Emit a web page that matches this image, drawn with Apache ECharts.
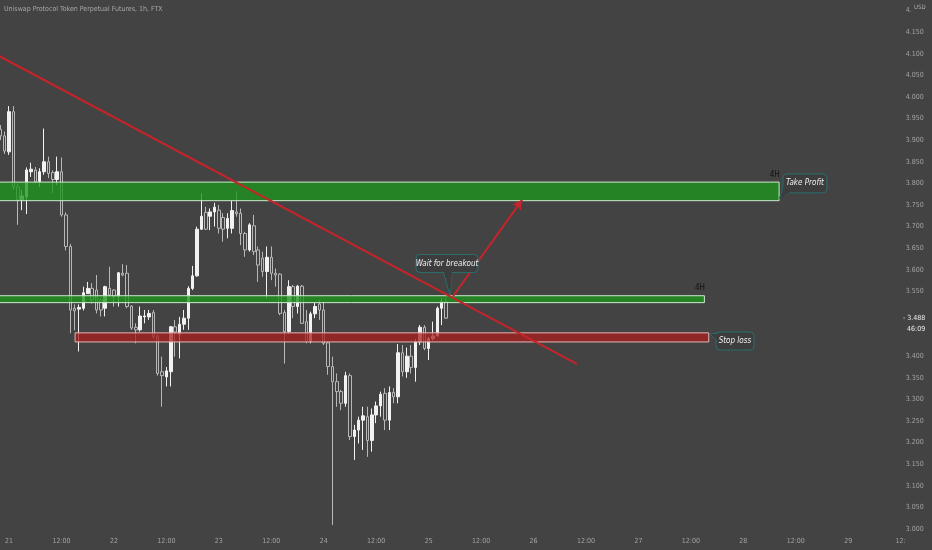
<!DOCTYPE html>
<html><head><meta charset="utf-8">
<script src="https://cdn.jsdelivr.net/npm/echarts@6/dist/echarts.min.js"></script>
<style>html,body{margin:0;padding:0;background:#434343;}#c{width:932px;height:550px;}</style>
</head><body><div id="c"></div>
<script>
// ---------- DATA ----------
const titleText = 'Uniswap Protocol Token Perpetual Futures, 1h, FTX';
const hourStart = -2;          // first hourly slot (hours after day 21 00:00)
const hourEnd = 204;           // last hourly slot on the time axis
const dayLabels = ['21','22','23','24','25','26','27','28','29'];
const halfDayLabel = '12:00';
const priceTicks = { min: 2.95, max: 4.25, step: 0.05 };
const hiddenPriceTicks = [3.5, 3.45];   // covered by the live price tag
const currency = 'USD';
const countdown = '46:09';
// [open, close, low, high], one per hour from hour -2
const candles = [
 [3.925,3.910,3.900,3.935],[3.910,3.875,3.868,3.920],[3.873,3.966,3.866,3.979],[3.966,3.792,3.785,3.979],
 [3.792,3.762,3.704,3.800],[3.762,3.771,3.738,3.785],[3.769,3.831,3.729,3.837],[3.827,3.833,3.815,3.848],
 [3.831,3.804,3.800,3.838],[3.804,3.827,3.792,3.835],[3.827,3.850,3.820,3.927],[3.850,3.823,3.812,3.862],
 [3.825,3.809,3.777,3.830],[3.809,3.827,3.796,3.862],[3.827,3.727,3.723,3.860],[3.727,3.654,3.645,3.733],
 [3.654,3.507,3.453,3.660],[3.511,3.505,3.460,3.520],[3.509,3.513,3.411,3.520],[3.511,3.547,3.506,3.561],
 [3.545,3.557,3.545,3.572],[3.557,3.530,3.522,3.569],[3.553,3.507,3.499,3.588],[3.530,3.507,3.492,3.534],
 [3.511,3.561,3.492,3.563],[3.557,3.542,3.538,3.607],[3.553,3.538,3.515,3.555],[3.538,3.593,3.515,3.595],
 [3.592,3.588,3.585,3.613],[3.592,3.515,3.511,3.611],[3.516,3.465,3.461,3.518],[3.467,3.461,3.430,3.476],
 [3.461,3.493,3.457,3.515],[3.491,3.493,3.476,3.507],[3.491,3.499,3.484,3.507],[3.501,3.445,3.441,3.507],
 [3.445,3.360,3.355,3.450],[3.364,3.355,3.283,3.399],[3.352,3.366,3.330,3.375],[3.364,3.468,3.330,3.470],
 [3.468,3.456,3.399,3.484],[3.451,3.474,3.395,3.491],[3.474,3.488,3.461,3.507],[3.488,3.557,3.461,3.562],
 [3.557,3.586,3.553,3.609],[3.586,3.694,3.584,3.700],[3.694,3.724,3.692,3.777],[3.733,3.694,3.692,3.746],
 [3.724,3.734,3.692,3.742],[3.734,3.745,3.700,3.755],[3.738,3.696,3.684,3.750],[3.721,3.694,3.665,3.731],
 [3.696,3.719,3.673,3.731],[3.696,3.737,3.684,3.760],[3.734,3.730,3.723,3.781],[3.731,3.684,3.657,3.742],
 [3.684,3.646,3.630,3.688],[3.646,3.704,3.642,3.708],[3.702,3.642,3.634,3.727],[3.646,3.611,3.572,3.654],
 [3.627,3.596,3.584,3.642],[3.596,3.629,3.534,3.654],[3.629,3.592,3.576,3.654],[3.592,3.588,3.561,3.603],
 [3.590,3.499,3.495,3.592],[3.501,3.457,3.383,3.507],[3.457,3.561,3.453,3.576],[3.561,3.515,3.488,3.565],
 [3.515,3.562,3.499,3.565],[3.562,3.476,3.476,3.565],[3.480,3.434,3.430,3.507],[3.434,3.498,3.430,3.503],
 [3.498,3.515,3.488,3.524],[3.521,3.507,3.484,3.530],[3.507,3.430,3.426,3.526],[3.431,3.376,3.357,3.434],
 [3.376,3.341,3.009,3.399],[3.341,3.318,3.283,3.360],[3.318,3.291,3.275,3.322],[3.291,3.355,3.283,3.364],
 [3.355,3.214,3.206,3.360],[3.214,3.229,3.160,3.241],[3.229,3.252,3.198,3.260],[3.252,3.262,3.183,3.283],
 [3.260,3.205,3.167,3.283],[3.205,3.264,3.179,3.279],[3.264,3.285,3.245,3.295],[3.285,3.312,3.260,3.318],
 [3.314,3.252,3.229,3.326],[3.252,3.316,3.229,3.330],[3.316,3.306,3.291,3.326],[3.306,3.408,3.291,3.428],
 [3.408,3.364,3.353,3.426],[3.364,3.400,3.350,3.420],[3.400,3.374,3.360,3.426],[3.374,3.433,3.341,3.440],
 [3.433,3.467,3.426,3.472],[3.467,3.418,3.414,3.472],[3.418,3.441,3.391,3.445],[3.441,3.447,3.436,3.480],
 [3.447,3.511,3.445,3.515],[3.511,3.526,3.472,3.534],[3.526,3.488,3.486,3.535]
];
// zones: [fromHour, toHour, lowPrice, highPrice]
const takeProfitZone = [-2.5, 176.2, 3.760, 3.803];
const resistanceZone = [-2.5, 159.1, 3.524, 3.540];
const stopLossZone   = [15.1, 160.1, 3.433, 3.454];
const zoneTag = '4H';
// lines: [[hour, price], [hour, price]]
const trendLine     = [[-2.5, 4.096], [129.9, 3.382]];
const breakoutArrow = [[101.6, 3.539], [117.4, 3.762]];
// callouts: text, box centre [hour, price], tail tip [hour, price]
const calloutTexts  = ['Wait for breakout', 'Take Profit', 'Stop loss'];
const calloutCentre = [[100.2, 3.6146], [182.1, 3.800], [166.1, 3.4352]];
const calloutTip    = [[100.9, 3.5417], [176.2, 3.7639], [160.3, 3.4514]];

// ---------- CHART ----------
const BG = '#434343';
const FONT = "'Liberation Sans Narrow','DejaVu Sans Condensed',sans-serif";
const AXIS_COL = '#a3a3a3';
const hours = [];
for (let h = hourStart; h <= hourEnd; h++) hours.push(String(h));
const lastClose = candles[candles.length - 1][1];

function zoneArea(z, fill, border, tag) {
  return [{
    coord: [z[0], z[3]],
    itemStyle: { color: fill, borderColor: border, borderWidth: 1 },
    label: tag ? { show: true, formatter: tag, position: ['100%', 0], align: 'right', verticalAlign: 'bottom',
                   offset: [0, -3], color: '#111', fontSize: 8, fontFamily: FONT } : { show: false }
  }, { coord: [z[1], z[2]] }];
}

const chart = echarts.init(document.getElementById('c'), null, { renderer: 'canvas' });
chart.setOption({
  animation: false,
  backgroundColor: BG,
  title: { text: titleText, left: 4, top: 6, padding: 0, textStyle: { color: '#a8a8a8', fontSize: 7, fontWeight: 'normal', fontFamily: FONT } },
  grid: { left: -1.83, right: 29.2, top: -11, bottom: -0.6, containLabel: false, outerBoundsMode: 'none' },
  xAxis: [{
    type: 'category', data: hours, boundaryGap: true, offset: -16,
    axisLine: { show: false }, axisTick: { show: false }, splitLine: { show: false },
    axisLabel: {
      color: AXIS_COL, fontSize: 7, fontFamily: FONT, margin: 3,
      interval: (i) => (i + hourStart) % 12 === 0,
      formatter: (v, i) => {
        const h = i + hourStart;
        if (h % 24 === 0) return dayLabels[h / 24];
        return h === hourEnd ? halfDayLabel.slice(0, 3) : halfDayLabel;
      }
    }
  }, {
    type: 'value', min: hourStart - 0.5, max: hourEnd + 0.5, show: false
  }],
  yAxis: {
    type: 'value', position: 'right', min: priceTicks.min, max: priceTicks.max, interval: priceTicks.step,
    axisLine: { show: false }, axisTick: { show: false }, splitLine: { show: false },
    axisLabel: {
      color: AXIS_COL, fontSize: 7, fontFamily: FONT, margin: 3,
      formatter: (v) => {
        if (v <= priceTicks.min + 1e-6 || v >= priceTicks.max - 1e-6) return '';
        if (hiddenPriceTicks.some(t => Math.abs(t - v) < 1e-6)) return '';
        return v.toFixed(3);
      }
    }
  },
  series: [{
    type: 'candlestick', xAxisIndex: 0, yAxisIndex: 0, data: candles, barWidth: 3, z: 2,
    itemStyle: { color: '#f2f2f2', color0: BG, borderColor: '#f2f2f2', borderColor0: '#b8b8b8', borderWidth: 1 }
  }, {
    type: 'line', xAxisIndex: 1, yAxisIndex: 0, data: [], silent: true,
    markArea: {
      z: 3, silent: true,
      data: [
        zoneArea(takeProfitZone, 'rgba(30,150,30,0.78)', '#cde8cd', zoneTag),
        zoneArea(resistanceZone, 'rgba(30,150,30,0.78)', '#cde8cd', zoneTag),
        zoneArea(stopLossZone, 'rgba(170,30,30,0.75)', '#e6b4b4', null)
      ]
    },
    markLine: {
      silent: true, symbol: ['none', 'none'], label: { show: false },
      lineStyle: { color: '#c4242a', width: 2, type: 'solid' },
      data: [[{ coord: trendLine[0] }, { coord: trendLine[1] }]]
    }
  }, {
    type: 'line', xAxisIndex: 1, yAxisIndex: 0, data: [], silent: true,
    markLine: {
      silent: true, symbol: ['none', 'arrow'], symbolSize: [8, 10], label: { show: false },
      lineStyle: { color: '#c4242a', width: 2, type: 'solid' },
      data: [[{ coord: breakoutArrow[0] }, { coord: breakoutArrow[1] }]]
    }
  }]
});

// ---------- callouts and price tag, placed through the chart's scales ----------
const toPx = (p) => chart.convertToPixel({ xAxisIndex: 1, yAxisIndex: 0 }, p);
const boxSize = [[62, 18], [44, 19], [38, 18]];
const graphics = [];
calloutTexts.forEach((t, i) => {
  const [cx, cy] = toPx(calloutCentre[i]);
  const [tx, ty] = toPx(calloutTip[i]);
  const [w, h] = boxSize[i];
  const l = cx - w / 2, tp = cy - h / 2, b = cy + h / 2;
  let base;
  if (i === 0) base = [[tx - 7, b - 1], [tx + 2, b - 1]];
  else if (i === 1) base = [[l + 1, b - 7], [l + 7, b - 1]];
  else base = [[l + 4, tp + 1], [l + 1, tp + 8]];
  graphics.push({ type: 'polygon', z: 20, shape: { points: [base[0], [tx, ty], base[1]] },
    style: { fill: '#3d3d3d', stroke: '#2b6e6e', lineWidth: 1 } });
  graphics.push({ type: 'rect', z: 21, shape: { x: l, y: tp, width: w, height: h, r: 4 },
    style: { fill: '#3d3d3d', stroke: '#2b6e6e', lineWidth: 1 } });
  graphics.push({ type: 'polygon', z: 22, shape: { points: [[base[0][0] + (i === 0 ? 1 : 0), base[0][1] + (i === 2 ? 1 : 0)], [tx + (tx < l ? 1 : 0), ty + (i === 0 ? -2 : 0)], base[1]] },
    style: { fill: '#3d3d3d' } });
  graphics.push({ type: 'text', z: 23, x: cx, y: cy,
    style: { text: t, fill: '#f0f0f0', font: 'italic 8px ' + FONT, textAlign: 'center', textVerticalAlign: 'middle' } });
});
const [, py] = toPx([hourEnd, lastClose]);
graphics.push({ type: 'text', z: 30, x: 903, y: py,
  style: { text: '- ' + lastClose.toFixed(3), fill: '#ececec', font: '7px ' + FONT, textVerticalAlign: 'middle' } });
graphics.push({ type: 'text', z: 30, x: 907, y: py + 11,
  style: { text: countdown, fill: '#ececec', font: '7px ' + FONT, textVerticalAlign: 'middle' } });
graphics.push({ type: 'rect', z: 30, shape: { x: 911, y: 0, width: 21, height: 15 }, style: { fill: BG } });
graphics.push({ type: 'text', z: 31, x: 914, y: 7,
  style: { text: currency, fill: '#b0b0b0', font: '6px ' + FONT, textVerticalAlign: 'middle' } });
chart.setOption({ graphic: graphics });
</script>
</body></html>
